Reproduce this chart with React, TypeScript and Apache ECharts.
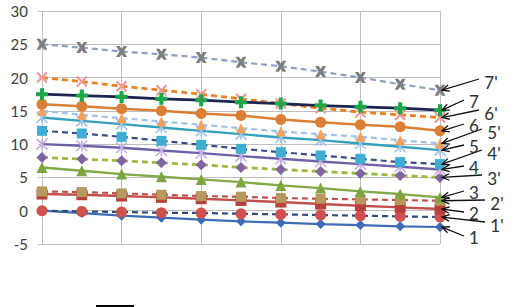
import React, { useEffect, useRef } from "react";
import * as echarts from "echarts";

// ---- data ----
const X_VALUES = [0, 1, 2, 3, 4, 5, 6, 7, 8, 9, 10];
const Y_TICKS = { min: -5, max: 30, interval: 5 };
const SERIES_NAMES = ["1", "1'", "2", "2'", "3", "3'", "4", "4'", "5", "5'", "6", "6'", "7", "7'"];
const S1 = [0, -0.35, -0.75, -1.05, -1.35, -1.6, -1.8, -2.0, -2.15, -2.35, -2.45];
const S1P = [0, -0.1, -0.2, -0.3, -0.35, -0.45, -0.55, -0.65, -0.75, -0.85, -0.95];
const S2 = [2.5, 2.4, 2.2, 2.0, 1.8, 1.55, 1.3, 1.0, 0.75, 0.5, 0.25];
const S2P = [2.9, 2.8, 2.6, 2.4, 2.2, 2.1, 1.9, 1.8, 1.7, 1.6, 1.5];
const S3 = [6.5, 6, 5.5, 5.1, 4.7, 4.3, 3.8, 3.4, 2.9, 2.5, 2.0];
const S3P = [8, 7.75, 7.5, 7.2, 6.9, 6.5, 6.2, 5.9, 5.6, 5.3, 5.0];
const S4 = [10, 9.75, 9.45, 9.05, 8.65, 8.2, 7.8, 7.4, 7.0, 6.6, 6.2];
const S4P = [12, 11.6, 11.1, 10.5, 9.9, 9.3, 8.8, 8.3, 7.8, 7.3, 7];
const S5 = [14, 13.5, 13, 12.5, 12, 11.5, 11, 10.6, 10.1, 9.6, 9.1];
const S5P = [15, 14.4, 13.9, 13.4, 12.9, 12.4, 11.9, 11.5, 11.1, 10.6, 10.1];
const S6 = [16, 15.7, 15.3, 15, 14.6, 14.3, 13.7, 13.3, 12.9, 12.6, 12];
const S6P = [20, 19.4, 18.7, 18.1, 17.5, 16.8, 16.1, 15.4, 14.8, 14.4, 14];
const S7 = [17.5, 17.3, 17.1, 16.8, 16.6, 16.3, 16.1, 15.8, 15.6, 15.4, 15.1];
const S7P = [25, 24.5, 23.9, 23.5, 23, 22.3, 21.7, 20.9, 20, 19, 18.1];
const SERIES_VALUES = [S1, S1P, S2, S2P, S3, S3P, S4, S4P, S5, S5P, S6, S6P, S7, S7P];

// ---- styles / layout ----
const X_PATH = "path://M0,0 L10,10 M10,0 L0,10";
const AST_PATH = "path://M5,0 L5,10 M0,0 L10,10 M10,0 L0,10";
const BOW_PATH = "path://M0,0 L3.2,0 L5,2.6 L6.8,0 L10,0 L7,5 L10,10 L6.8,10 L5,7.4 L3.2,10 L0,10 L3,5 Z";
const PLUS_PATH = "path://M3.3,0 L6.7,0 L6.7,3.3 L10,3.3 L10,6.7 L6.7,6.7 L6.7,10 L3.3,10 L3.3,6.7 L0,6.7 L0,3.3 L3.3,3.3 Z";

type Sty = { line: string; dashed: boolean; w: number; symbol: string; size: number; fill: string; stroke?: string; sw?: number };
const STYLES: Sty[] = [
  { line: "#3E6DB5", dashed: false, w: 2.2, symbol: "diamond", size: 10, fill: "#3E6DB5" },
  { line: "#2F4B7C", dashed: true, w: 2.2, symbol: "circle", size: 11, fill: "#D0504D" },
  { line: "#C0504D", dashed: false, w: 2.4, symbol: "rect", size: 11, fill: "#B8403C" },
  { line: "#C0504D", dashed: true, w: 2.2, symbol: "rect", size: 10, fill: "#B49A5C" },
  { line: "#84AA48", dashed: false, w: 2.4, symbol: "triangle", size: 11, fill: "#7EA542" },
  { line: "#9BBB3F", dashed: true, w: 2.8, symbol: "diamond", size: 11, fill: "#8064A2" },
  { line: "#7160A8", dashed: false, w: 2.4, symbol: AST_PATH, size: 11, fill: "none", stroke: "#C4B0E4", sw: 1.6 },
  { line: "#3A4E86", dashed: true, w: 2.2, symbol: "rect", size: 10, fill: "#3FAED2" },
  { line: "#35A0BF", dashed: false, w: 2.4, symbol: AST_PATH, size: 11, fill: "none", stroke: "#9DC3E6", sw: 1.6 },
  { line: "#9DC3E6", dashed: true, w: 2.2, symbol: "triangle", size: 10, fill: "#F4A05A" },
  { line: "#DC7F36", dashed: false, w: 2.5, symbol: "circle", size: 11, fill: "#DC7F36" },
  { line: "#EE7F22", dashed: true, w: 2.8, symbol: X_PATH, size: 10, fill: "none", stroke: "#EE9A9A", sw: 2.2 },
  { line: "#1B2550", dashed: false, w: 2.8, symbol: PLUS_PATH, size: 12, fill: "#1DA64A" },
  { line: "#909FC2", dashed: true, w: 2.2, symbol: BOW_PATH, size: 11, fill: "#7F7F7F" },
];

const LABEL_POS: Record<string, [number, number]> = {
  "7'": [491, 82], "7": [474, 101], "6'": [491, 113], "6": [474, 125],
  "5'": [494, 132], "5": [474, 146], "4'": [494, 153], "4": [474, 167],
  "3'": [494, 178], "3": [474, 192], "2'": [497, 203], "2": [474, 213],
  "1'": [497, 225], "1": [474, 237],
};

const FONT = "Lato, 'Liberation Sans', sans-serif";

export default function App() {
  const ref = useRef<HTMLDivElement>(null);
  useEffect(() => {
    if (!ref.current) return;
    const chart = echarts.init(ref.current, null, { renderer: "svg" });
    const series = SERIES_NAMES.map((name, i) => {
      const s = STYLES[i];
      return {
        name,
        type: "line",
        data: X_VALUES.map((x, j) => [x, SERIES_VALUES[i][j]]),
        symbol: s.symbol,
        symbolSize: s.size,
        showAllSymbol: true,
        lineStyle: { color: s.line, width: s.w, type: s.dashed ? [6, 4] : "solid" },
        itemStyle: {
          color: s.fill,
          borderColor: s.stroke || s.fill,
          borderWidth: s.sw || 0,
        },
        emphasis: { disabled: true },
        z: 2 + i,
      };
    });
    chart.setOption({
      animation: false,
      backgroundColor: "#ffffff",
      grid: { left: 42, right: 74, top: 11, bottom: 63, containLabel: false },
      xAxis: {
        type: "value",
        min: 0,
        max: 10,
        interval: 2,
        axisLine: { show: false },
        axisTick: { show: false },
        axisLabel: { show: false },
        splitLine: { show: true, lineStyle: { color: "#BFBFBF", width: 1 } },
      },
      yAxis: {
        type: "value",
        min: Y_TICKS.min,
        max: Y_TICKS.max,
        interval: Y_TICKS.interval,
        axisLine: { show: true, lineStyle: { color: "#BFBFBF" } },
        axisTick: { show: true, length: 4, lineStyle: { color: "#BFBFBF" } },
        axisLabel: { color: "#404040", fontSize: 15, fontFamily: FONT, margin: 14 },
        splitLine: { show: true, lineStyle: { color: "#BFBFBF", width: 1 } },
      },
      series,
    });

    const graphics: any[] = [];
    SERIES_NAMES.forEach((name, i) => {
      const vals = SERIES_VALUES[i];
      const tip = chart.convertToPixel({ xAxisIndex: 0, yAxisIndex: 0 }, [
        X_VALUES[X_VALUES.length - 1],
        vals[vals.length - 1],
      ]) as number[];
      const [lx, ly] = LABEL_POS[name];
      const primed = name.includes("'");
      const sx = primed ? lx - 12 : lx - 10;
      const sy = primed ? ly - 3 : ly - 1;
      const tx = tip[0] + 2;
      const ty = tip[1];
      const ang = Math.atan2(sy - ty, sx - tx);
      const len = 8;
      const spread = 0.42;
      const a1 = [tx + len * Math.cos(ang + spread), ty + len * Math.sin(ang + spread)];
      const a2 = [tx + len * Math.cos(ang - spread), ty + len * Math.sin(ang - spread)];
      graphics.push({
        type: "line",
        shape: { x1: sx, y1: sy, x2: tx, y2: ty },
        style: { stroke: "#111", lineWidth: 1.3 },
        z: 100,
      });
      graphics.push({
        type: "polyline",
        shape: { points: [a1, [tx, ty], a2] },
        style: { stroke: "#111", lineWidth: 1.3, fill: null },
        z: 100,
      });
      graphics.push({
        type: "text",
        x: lx,
        y: ly,
        style: {
          text: name,
          fontSize: 17,
          fontFamily: FONT,
          fill: "#303030",
          align: "center",
          verticalAlign: "middle",
        },
        z: 100,
      });
    });
    graphics.push({
      type: "rect",
      shape: { x: 96, y: 305, width: 38, height: 3 },
      style: { fill: "#000" },
      z: 100,
    });
    chart.setOption({ graphic: graphics });

    return () => chart.dispose();
  }, []);
  return (
    <div
      ref={ref}
      style={{ position: "fixed", left: 0, top: 0, width: 514, height: 307, background: "#fff" }}
    />
  );
}
